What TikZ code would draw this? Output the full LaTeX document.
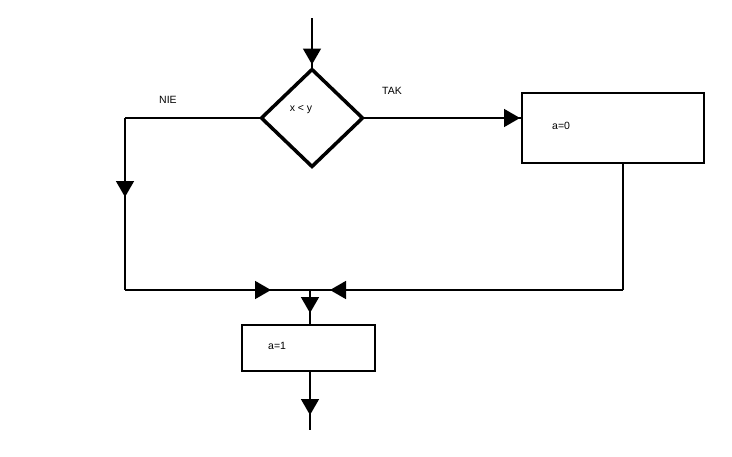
\documentclass[tikz,border=0pt]{standalone}
\usepackage{fontspec}
\setmainfont{Liberation Sans}
\usetikzlibrary{shapes.geometric,arrows.meta,decorations.markings}
\begin{document}
\begin{tikzpicture}[x=1pt,y=-1pt,
  conn/.style={line width=1.6pt},
  tipat/.style={postaction={decorate},decoration={markings,
      mark=at position #1 with {\arrow{Triangle[length=16pt,width=18pt]}}}},
  procbox/.style={draw,line width=1.8pt,rectangle,inner sep=0pt,outer sep=0pt},
  decbox/.style={draw,line width=3.5pt,diamond,inner sep=0pt,outer sep=0pt,
      minimum width=101pt,minimum height=97pt},
  lbl/.style={font=\fontsize{10.5}{12}\selectfont,inner sep=0pt}]
\useasboundingbox (0,0) rectangle (732,456);
% shapes
\node[decbox] (d) at (312,118) {};
\node[lbl] (tcond) at (301,110) {x < y};
\node[procbox,minimum width=182pt,minimum height=70pt] (b0) at (613,128) {};
\node[lbl,anchor=west] (t0) at (552,126) {a=0};
\node[procbox,minimum width=133pt,minimum height=46pt] (b1) at (308.5,348) {};
\node[lbl,anchor=west] (t1) at (268,346) {a=1};
\node[lbl] (nie) at (168,100) {NIE};
\node[lbl] (tak) at (392,91) {TAK};
% coordinates
\coordinate (start) at (312,18);
\coordinate (c1) at (125,118);
\coordinate (c2) at (125,290);
\coordinate (j) at (310,290);
\coordinate (c3) at (623,290);
\coordinate (fin) at (310,430);
% connectors
\draw[conn,tipat=-5pt] (start) -- (d.north);
\draw[conn] (d.west) -- (c1);
\draw[conn,tipat=79pt] (c1) -- (c2);
\draw[conn,tipat=146pt] (c2) -- (j);
\draw[conn,tipat=293pt] (c3) -- (j);
\draw[conn,tipat=-2pt] (d.east) -- (d.east -| b0.west);
\draw[conn] (b0.south -| c3) -- (c3);
\draw[conn,tipat=23pt] (j) -- (j |- b1.north);
\draw[conn,tipat=44pt] (b1.south -| fin) -- (fin);
\end{tikzpicture}
\end{document}
